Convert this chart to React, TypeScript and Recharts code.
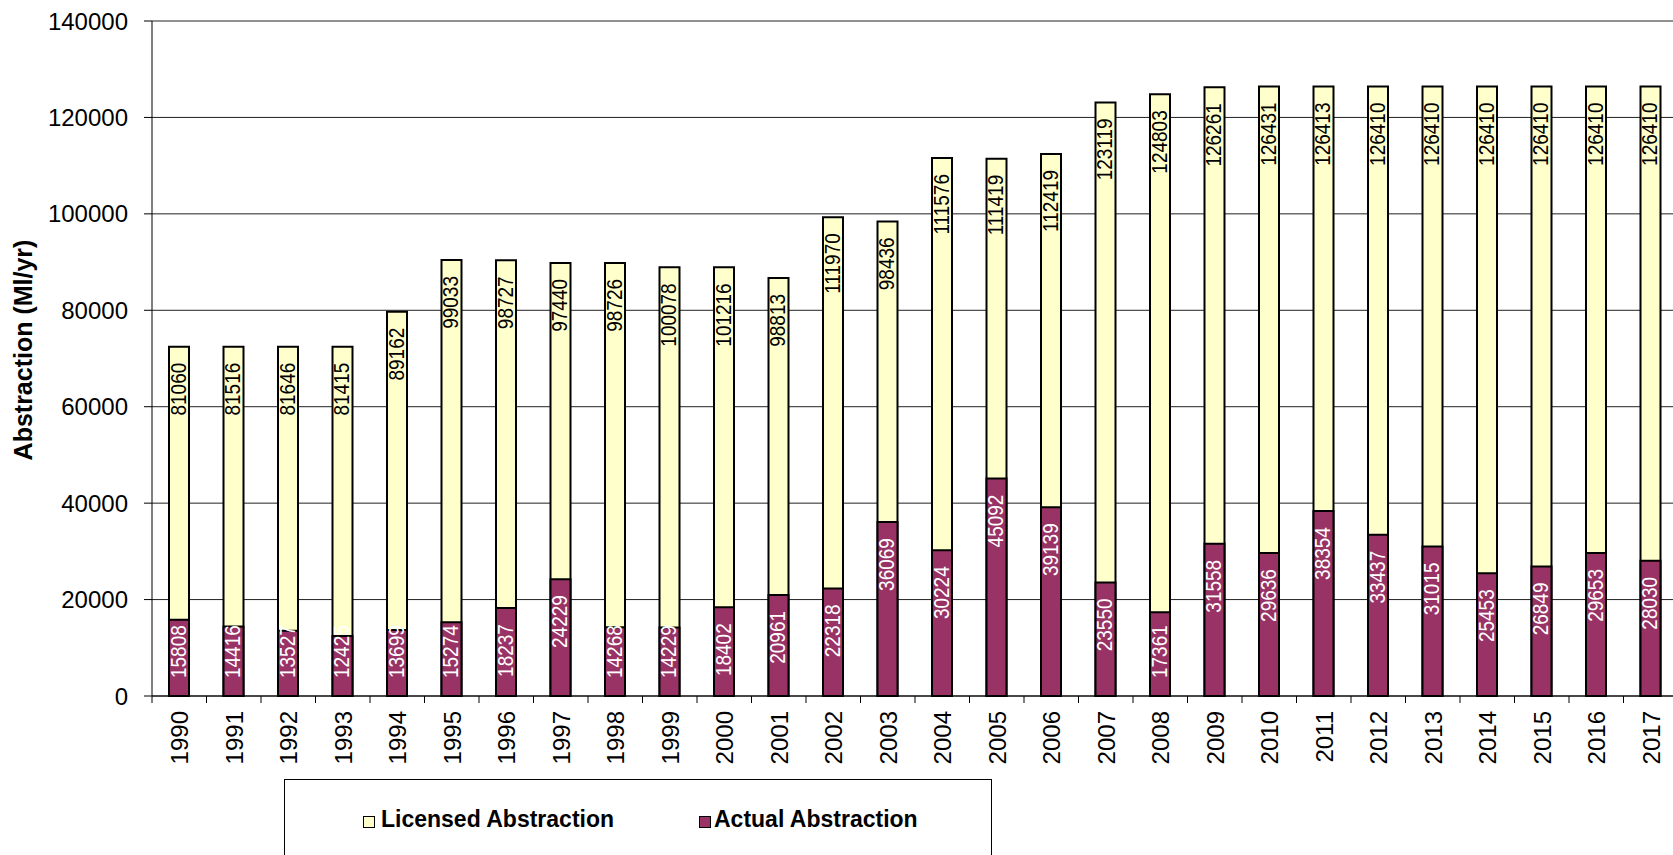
import React from 'react';
import { BarChart, Bar, XAxis, YAxis, CartesianGrid, LabelList, Label } from 'recharts';

const years = [
  '1990', '1991', '1992', '1993', '1994', '1995', '1996', '1997', '1998', '1999',
  '2000', '2001', '2002', '2003', '2004', '2005', '2006', '2007', '2008', '2009',
  '2010', '2011', '2012', '2013', '2014', '2015', '2016', '2017',
];

// printed labels of the licensed bars
const licensedLabels = [
  81060, 81516, 81646, 81415, 89162, 99033, 98727, 97440, 98726, 100078,
  101216, 98813, 111970, 98436, 111576, 111419, 112419, 123119, 124803, 126261,
  126431, 126413, 126410, 126410, 126410, 126410, 126410, 126410,
];

// heights the licensed bars are actually drawn at (early years don't match their labels)
const licensedHeights = [
  72450, 72450, 72450, 72450, 79700, 90430, 90360, 89810, 89810, 88910,
  88910, 86700, 99300, 98436, 111576, 111419, 112419, 123119, 124803, 126261,
  126431, 126413, 126410, 126410, 126410, 126410, 126410, 126410,
];

const actual = [
  15808, 14416, 13527, 12425, 13699, 15274, 18237, 24229, 14268, 14229,
  18402, 20961, 22318, 36069, 30224, 45092, 39139, 23550, 17361, 31558,
  29636, 38354, 33437, 31015, 25453, 26849, 29653, 28030,
];

const yTicks = [0, 20000, 40000, 60000, 80000, 100000, 120000, 140000];

const data = years.map((year, i) => ({
  year,
  licensed: licensedHeights[i],
  licensedLabel: licensedLabels[i],
  actual: actual[i],
}));

const FONT = '"Liberation Sans", Arial, Helvetica, sans-serif';
const BAND = 54.5;
const LICENSED = '#FFFFCC';
const ACTUAL = '#993366';

const YearTick = (props: any) => {
  const { x, y, payload } = props;
  const bx = x + 9;
  const by = y + 15;
  return (
    <g>
      <line x1={x - BAND / 2} x2={x - BAND / 2} y1={y} y2={y + 7} stroke="#000" />
      <text
        x={bx}
        y={by}
        transform={`rotate(-90, ${bx}, ${by})`}
        textAnchor="end"
        fontSize={24}
        fontFamily={FONT}
        fill="#000"
      >
        {payload.value}
      </text>
    </g>
  );
};

// Excel style "inside end" label, rotated, kept clear of the base
const barLabel = (color: string) => (props: any) => {
  const vb = props.viewBox || props;
  const x = vb.x ?? props.x;
  const y = vb.y ?? props.y;
  const width = vb.width ?? props.width;
  const height = vb.height ?? props.height;
  const text = String(props.value);
  const len = text.length * 10.56;
  const base = y + height;
  const top = Math.min(y + 16, base - 18 - len);
  const cx = x + width / 2 + 6.5;
  return (
    <g transform={`translate(${cx}, ${top}) rotate(-90) scale(1, 1.12)`}>
      <text x={0} y={0} textAnchor="end" fontSize={19} fontFamily={FONT} fill={color}>
        {text}
      </text>
    </g>
  );
};

export default function App() {
  return (
    <div
      style={{
        position: 'fixed',
        left: 0,
        top: 0,
        width: 1673,
        height: 855,
        overflow: 'hidden',
        background: '#fff',
        fontFamily: FONT,
      }}
    >
      <BarChart
        width={1700}
        height={855}
        data={data}
        margin={{ top: 21, right: 22, bottom: 0, left: 0 }}
      >
        <CartesianGrid vertical={false} stroke="#222" strokeWidth={1} />
        <XAxis
          dataKey="year"
          height={159}
          interval={0}
          tickSize={0}
          tickMargin={0}
          tickLine={false}
          axisLine={{ stroke: '#000' }}
          tick={<YearTick />}
        />
        <XAxis xAxisId="act" dataKey="year" hide />
        <YAxis
          domain={[0, 140000]}
          ticks={yTicks}
          interval={0}
          width={152}
          tickSize={8}
          tickMargin={16}
          axisLine={{ stroke: '#000' }}
          tickLine={{ stroke: '#000' }}
          tick={{ fontSize: 24, fill: '#000', fontFamily: FONT }}
        >
          <Label
            content={() => (
              <text
                x={32}
                y={350}
                transform="rotate(-90, 32, 350)"
                textAnchor="middle"
                fontSize={25}
                fontWeight="bold"
                fontFamily={FONT}
                fill="#000"
              >
                Abstraction (Ml/yr)
              </text>
            )}
          />
        </YAxis>
        <Bar
          dataKey="licensed"
          fill={LICENSED}
          stroke="#000"
          strokeWidth={2}
          barSize={20}
          isAnimationActive={false}
        >
          <LabelList dataKey="licensedLabel" content={barLabel('#000')} />
        </Bar>
        <Bar
          xAxisId="act"
          dataKey="actual"
          fill={ACTUAL}
          stroke="#000"
          strokeWidth={2}
          barSize={20}
          isAnimationActive={false}
        >
          <LabelList dataKey="actual" content={barLabel('#fff')} />
        </Bar>
      </BarChart>

      <div
        style={{
          position: 'absolute',
          left: 284,
          top: 779,
          width: 706,
          height: 120,
          border: '1px solid #000',
          background: '#fff',
        }}
      >
        {[
          { name: 'Licensed Abstraction', color: LICENSED, box: 78, text: 96 },
          { name: 'Actual Abstraction', color: ACTUAL, box: 414, text: 429 },
        ].map((item) => (
          <React.Fragment key={item.name}>
            <div
              style={{
                position: 'absolute',
                left: item.box,
                top: 36,
                width: 10,
                height: 10,
                background: item.color,
                border: '1px solid #000',
              }}
            />
            <span
              style={{
                position: 'absolute',
                left: item.text,
                top: 28,
                fontSize: 23,
                lineHeight: '23px',
                fontWeight: 'bold',
                whiteSpace: 'nowrap',
                color: '#000',
              }}
            >
              {item.name}
            </span>
          </React.Fragment>
        ))}
      </div>
    </div>
  );
}
